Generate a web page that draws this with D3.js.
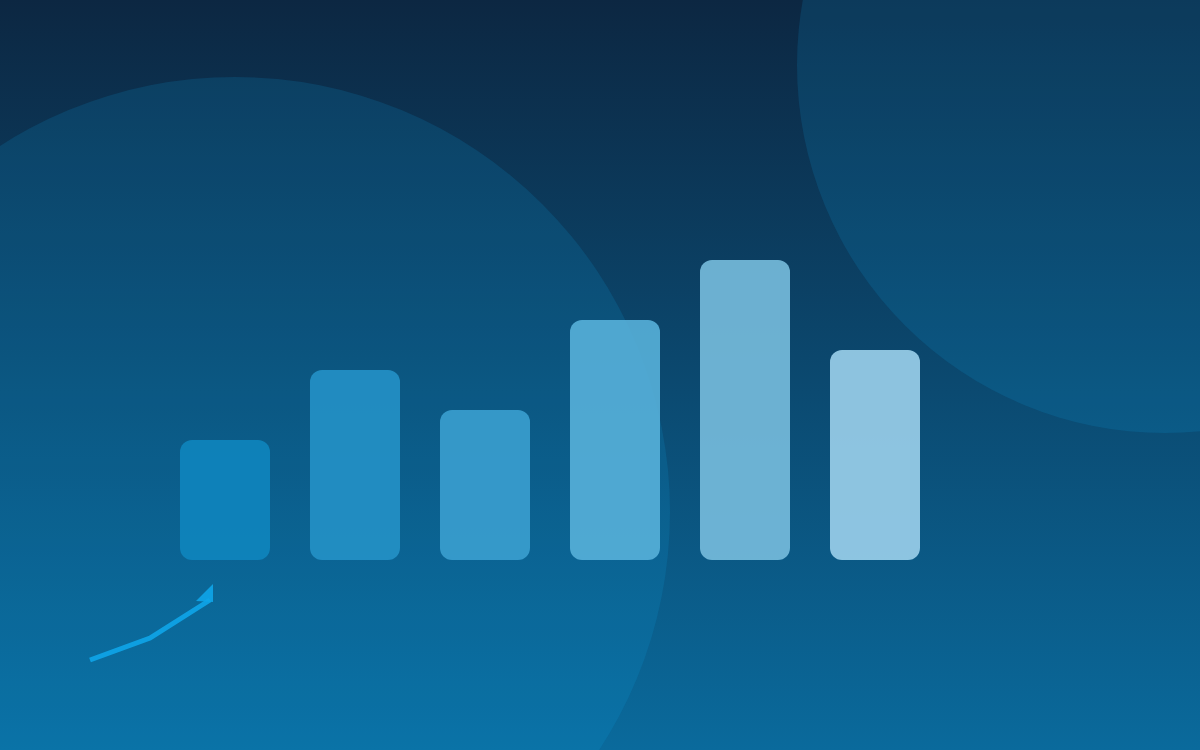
<!DOCTYPE html>
<html>
<head>
<meta charset="utf-8">
<script src="https://cdn.jsdelivr.net/npm/d3@7"></script>
<style>
  html, body { margin: 0; padding: 0; background: #0c2742; }
  svg { display: block; }
</style>
</head>
<body>
<svg></svg>
<script>
const categories = ["A", "B", "C", "D", "E", "F"];
const values = [120, 190, 150, 240, 300, 210];
const barColors = ["#0e85be", "#2391c7", "#3a9fcf", "#57b0d9", "#77bddd", "#9bd0eb"];
const trendPoints = [[90, 660], [150, 638], [210, 600]];
const arrowHead = [[213, 584], [196, 601], [213, 602]];

const width = 1200, height = 750;

const svg = d3.select("svg")
    .attr("width", width)
    .attr("height", height);

const defs = svg.append("defs");
const grad = defs.append("linearGradient")
    .attr("id", "bg")
    .attr("x1", 0).attr("y1", 0)
    .attr("x2", 0).attr("y2", 1);
grad.append("stop").attr("offset", "0%").attr("stop-color", "#0c2742");
grad.append("stop").attr("offset", "100%").attr("stop-color", "#0a6a9c");

svg.append("rect")
    .attr("width", width)
    .attr("height", height)
    .attr("fill", "url(#bg)");

// decorative circles
svg.append("circle")
    .attr("cx", 235).attr("cy", 512).attr("r", 435)
    .attr("fill", "#0ea5e9").attr("fill-opacity", 0.15);

svg.append("circle")
    .attr("cx", 1165).attr("cy", 65).attr("r", 368)
    .attr("fill", "#0ea5e9").attr("fill-opacity", 0.15);

const x = d3.scaleBand()
    .domain(categories)
    .range([180, 920])
    .paddingInner(4 / 13)
    .paddingOuter(0);

const y = d3.scaleLinear()
    .domain([0, 300])
    .range([560, 260]);

svg.append("g")
    .selectAll("rect")
    .data(values)
    .enter().append("rect")
    .attr("x", (d, i) => x(categories[i]))
    .attr("y", d => y(d))
    .attr("width", x.bandwidth())
    .attr("height", d => y(0) - y(d))
    .attr("rx", 12)
    .attr("fill", (d, i) => barColors[i])
    .attr("fill-opacity", 0.9);

// small trend arrow
svg.append("path")
    .attr("d", d3.line()(trendPoints))
    .attr("fill", "none")
    .attr("stroke", "#0ea5e9")
    .attr("stroke-opacity", 0.9)
    .attr("stroke-width", 5);

svg.append("path")
    .attr("d", d3.line()(arrowHead) + "Z")
    .attr("fill", "#0ea5e9")
    .attr("fill-opacity", 0.9);
</script>
</body>
</html>
